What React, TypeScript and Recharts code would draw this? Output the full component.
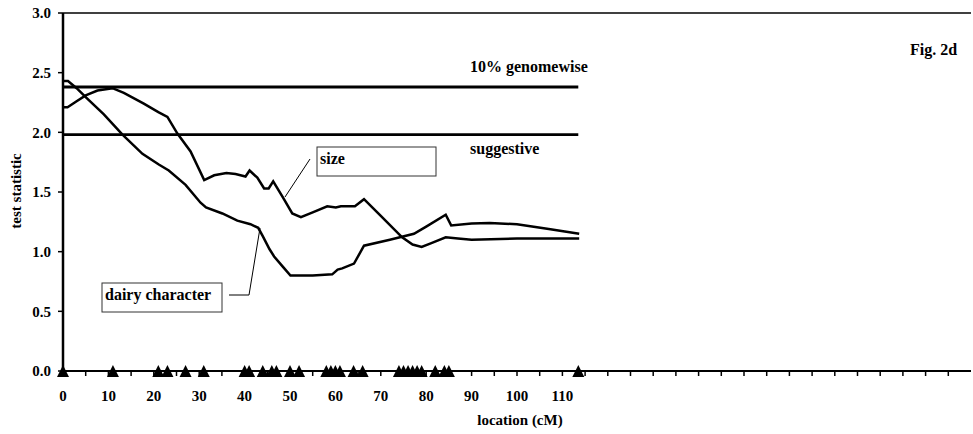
import React from 'react';
import { ComposedChart, Line, Scatter, XAxis, YAxis, ReferenceLine } from 'recharts';

// QTL profile, chromosome 2d: test statistic along the map (cM)
const sizeCM = [0, 1, 3, 5, 7.6, 10.9, 13.4, 17.8, 21, 23, 25.2, 28.1, 31.1, 33.3, 36, 38, 40.2, 41.1, 42.8, 44.3, 45.3, 46.3, 48.5, 50.5, 52.4, 55, 58.2, 60.1, 61.2, 64.3, 66.3, 70, 74.7, 77, 79, 81, 84.3, 87, 90, 100, 113.7];
const sizeStat = [2.21, 2.21, 2.26, 2.31, 2.35, 2.37, 2.33, 2.24, 2.17, 2.13, 1.99, 1.84, 1.6, 1.64, 1.66, 1.65, 1.63, 1.68, 1.62, 1.53, 1.53, 1.59, 1.45, 1.32, 1.29, 1.33, 1.38, 1.37, 1.38, 1.38, 1.44, 1.3, 1.12, 1.06, 1.04, 1.07, 1.12, 1.11, 1.1, 1.11, 1.11];

const dairyCM = [0, 1.1, 3, 5.4, 9, 13.1, 17.5, 21.1, 23.3, 27, 30.3, 31.5, 35.1, 38.4, 41.3, 43, 44, 45.5, 46.5, 48.5, 50.1, 55, 59.3, 60.5, 61.5, 64.1, 66.3, 72, 77.3, 80, 84.3, 85.5, 90, 94, 100, 107, 113.7];
const dairyStat = [2.43, 2.43, 2.37, 2.28, 2.15, 1.98, 1.82, 1.73, 1.68, 1.56, 1.41, 1.37, 1.32, 1.26, 1.23, 1.2, 1.13, 1.02, 0.96, 0.87, 0.8, 0.8, 0.81, 0.85, 0.86, 0.9, 1.05, 1.1, 1.15, 1.21, 1.31, 1.22, 1.235, 1.24, 1.23, 1.19, 1.15];

// marker positions along the chromosome
const markerCM = [0, 11, 21, 23, 27, 31, 40, 41, 44, 46, 47, 50, 52, 58, 59, 60, 61, 64, 66, 74, 75, 76, 77, 78, 79, 82, 84, 85, 113.5];

const genomewise = 2.38;
const suggestive = 1.98;
const thresholdStart = 0;
const thresholdEnd = 113.5;

const xTicks = [0, 5, 10, 15, 20, 25, 30, 35, 40, 45, 50, 55, 60, 65, 70, 75, 80, 85, 90, 95, 100, 105, 110, 115, 120, 125, 130, 135, 140, 145, 150, 155, 160, 165, 170, 175, 180, 185, 190, 195];
const xLabelMax = 110;
const yTicks = [0, 0.5, 1, 1.5, 2, 2.5, 3];

const sizeData = sizeCM.map((x, i) => ({ x, y: sizeStat[i] }));
const dairyData = dairyCM.map((x, i) => ({ x, y: dairyStat[i] }));
const markerData = markerCM.map((x) => ({ x, y: 0 }));
const genomeData = [{ x: thresholdStart, y: genomewise }, { x: thresholdEnd, y: genomewise }];
const suggestData = [{ x: thresholdStart, y: suggestive }, { x: thresholdEnd, y: suggestive }];

const FONT = "'Liberation Serif', 'Times New Roman', serif";

const Triangle = (props: any) => {
  const { cx, cy } = props;
  return <polygon points={`${cx - 6},${cy + 6} ${cx + 6},${cy + 6} ${cx},${cy - 6}`} fill="#000" />;
};

const tickStyle = { fontFamily: FONT, fontWeight: 'bold', fontSize: 15, fill: '#000' };

export default function App() {
  return (
    <div style={{ position: 'relative', width: 973, height: 434, background: '#fff' }}>
      <style>{'body{margin:0}'}</style>
      <ComposedChart width={973} height={434} margin={{ top: 13, right: 2, bottom: 33, left: 0 }}>
        <XAxis
          type="number"
          dataKey="x"
          domain={[0, 200]}
          ticks={xTicks}
          interval={0}
          tickFormatter={(v: number) => (v % 10 === 0 && v <= xLabelMax ? String(v) : '')}
          tick={tickStyle}
          tickSize={5}
          tickMargin={14}
          axisLine={{ stroke: '#000', strokeWidth: 2 }}
          tickLine={{ stroke: '#000', strokeWidth: 1.5 }}
          height={30}
        />
        <YAxis
          type="number"
          dataKey="y"
          domain={[0, 3]}
          ticks={yTicks}
          interval={0}
          tickFormatter={(v: number) => v.toFixed(1)}
          tick={tickStyle}
          tickSize={5}
          tickMargin={7}
          axisLine={{ stroke: '#000', strokeWidth: 2.5 }}
          tickLine={{ stroke: '#000', strokeWidth: 1.5 }}
          width={63}
        />
        <ReferenceLine y={3} stroke="#000" strokeWidth={1.5} />
        <Line data={genomeData} dataKey="y" type="linear" stroke="#000" strokeWidth={2.8} dot={false} isAnimationActive={false} />
        <Line data={suggestData} dataKey="y" type="linear" stroke="#000" strokeWidth={2.8} dot={false} isAnimationActive={false} />
        <Line data={sizeData} dataKey="y" type="linear" stroke="#000" strokeWidth={2.5} dot={false} isAnimationActive={false} />
        <Line data={dairyData} dataKey="y" type="linear" stroke="#000" strokeWidth={2.5} dot={false} isAnimationActive={false} />
        <Scatter data={markerData} dataKey="y" shape={<Triangle />} isAnimationActive={false} />
      </ComposedChart>
      <svg width={973} height={434} style={{ position: 'absolute', left: 0, top: 0, pointerEvents: 'none' }}>
        <g fontFamily={FONT} fontWeight="bold" fill="#000">
          <text x={910} y={55} fontSize={16}>Fig. 2d</text>
          <text x={470} y={72} fontSize={16}>10% genomewise</text>
          <text x={470} y={154} fontSize={16}>suggestive</text>
          <rect x={317} y={147} width={119} height={29} fill="#fff" stroke="#333" strokeWidth={1} />
          <text x={320} y={163.5} fontSize={16}>size</text>
          <line x1={310} y1={159} x2={285} y2={197} stroke="#000" strokeWidth={1} />
          <rect x={102} y={283} width={120} height={29} fill="#fff" stroke="#333" strokeWidth={1} />
          <text x={105} y={299.5} fontSize={16}>dairy character</text>
          <polyline points="229,295 249,295 260,228" fill="none" stroke="#000" strokeWidth={1} />
          <text x={520} y={425} fontSize={15} textAnchor="middle">location (cM)</text>
          <text x={0} y={0} fontSize={15} textAnchor="middle" transform="translate(21,191) rotate(-90)">test statistic</text>
        </g>
      </svg>
    </div>
  );
}
